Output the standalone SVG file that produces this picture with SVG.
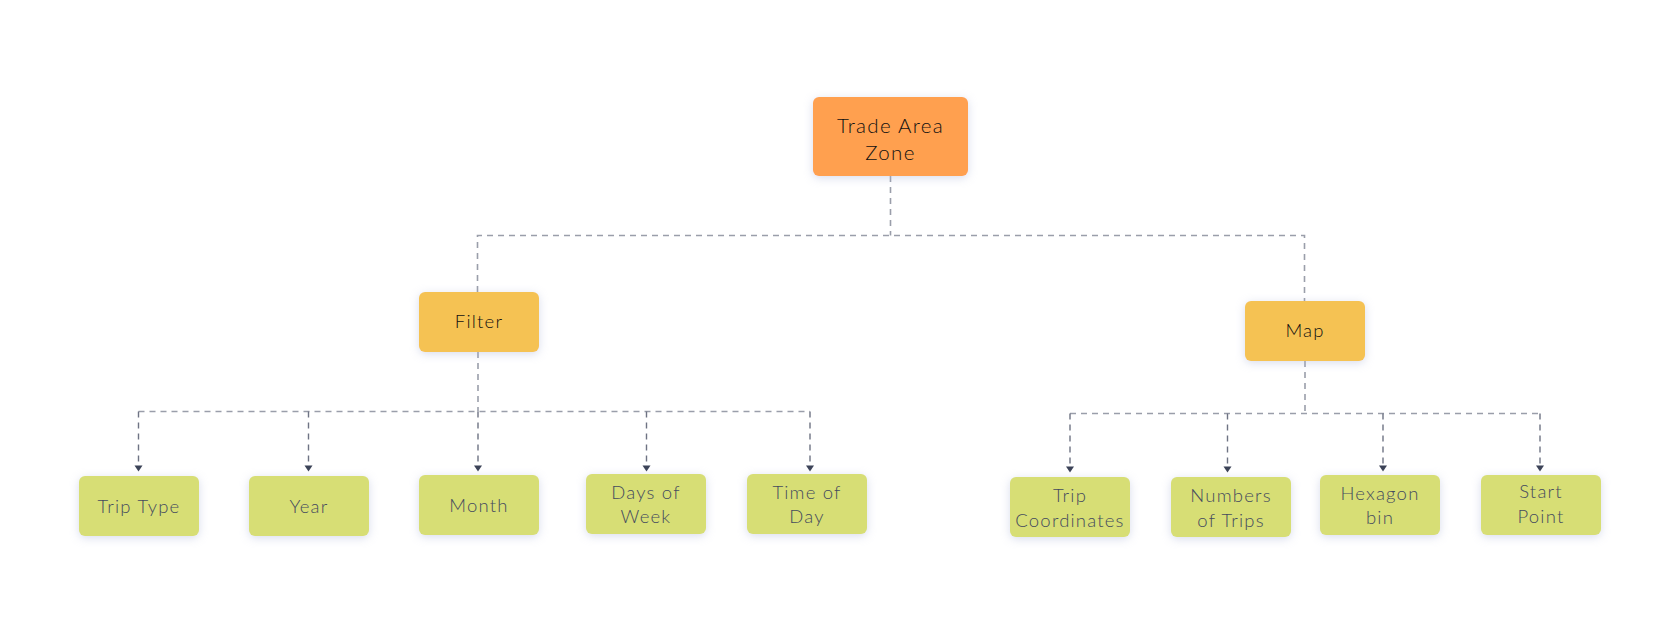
<svg xmlns="http://www.w3.org/2000/svg" width="1680" height="633" viewBox="0 0 1680 633">
<defs>
<filter id="sh" x="-30%" y="-40%" width="160%" height="180%">
<feDropShadow dx="0" dy="2" stdDeviation="5" flood-color="#aab2d4" flood-opacity="0.45"/>
</filter>
<style>
.ln{fill:none;stroke:#9a9eaa;stroke-width:1.6;stroke-dasharray:6 5}
.ch{fill:none;stroke:#6e7383;stroke-width:1.4;stroke-dasharray:6 5}
.ah{fill:#3b4257}
.root{fill:#ffa04f}
.mid{fill:#f5c253}
.leaf{fill:#d7de74}
.t{font-family:Lato,"Noto Sans",sans-serif;font-weight:300;font-size:18.5px;letter-spacing:1.2px;text-anchor:middle}
.big{font-size:20.5px;letter-spacing:1.3px}
.dk{fill:#111111}
.gy{fill:#454b5e}
</style>
</defs>
<rect width="1680" height="633" fill="#ffffff"/>
<g id="connectors">
<path class="ln" d="M890.5 176 V235.5"/>
<path class="ln" d="M477.5 292 V235.5 H1304.5 V301"/>
<path class="ln" d="M478 352 V411.5"/>
<path class="ln" d="M138.5 411.5 H810"/>
<path class="ch" d="M138.5 411.5 V466"/>
<path class="ch" d="M308.5 411.5 V466"/>
<path class="ch" d="M478 411.5 V466"/>
<path class="ch" d="M646.5 411.5 V466"/>
<path class="ch" d="M810 411.5 V466"/>
<path class="ln" d="M1305 361 V413.5"/>
<path class="ln" d="M1070 413.5 H1540"/>
<path class="ch" d="M1070 413.5 V467"/>
<path class="ch" d="M1227.5 413.5 V467"/>
<path class="ch" d="M1383 413.5 V466"/>
<path class="ch" d="M1540 413.5 V466"/>
<path class="ah" d="M134.5 465.5 h8 l-4 6 z"/>
<path class="ah" d="M304.5 465.5 h8 l-4 6 z"/>
<path class="ah" d="M474 465.5 h8 l-4 6 z"/>
<path class="ah" d="M642.5 465.5 h8 l-4 6 z"/>
<path class="ah" d="M806 465.5 h8 l-4 6 z"/>
<path class="ah" d="M1066 466.5 h8 l-4 6 z"/>
<path class="ah" d="M1223.5 466.5 h8 l-4 6 z"/>
<path class="ah" d="M1379 465.5 h8 l-4 6 z"/>
<path class="ah" d="M1536 465.5 h8 l-4 6 z"/>
</g>
<g id="root">
<rect class="root" x="813" y="97" width="155" height="79" rx="6" filter="url(#sh)"/>
<text class="t big dk" x="890.5" y="133">Trade Area</text>
<text class="t big dk" x="890.5" y="160">Zone</text>
</g>
<g id="filter">
<rect class="mid" x="419" y="292" width="120" height="60" rx="6" filter="url(#sh)"/>
<text class="t dk" x="479" y="328">Filter</text>
</g>
<g id="map">
<rect class="mid" x="1245" y="301" width="120" height="60" rx="6" filter="url(#sh)"/>
<text class="t dk" x="1305" y="337">Map</text>
</g>
<g id="trip-type">
<rect class="leaf" x="79" y="476" width="120" height="60" rx="6" filter="url(#sh)"/>
<text class="t gy" x="139" y="512.5">Trip Type</text>
</g>
<g id="year">
<rect class="leaf" x="249" y="476" width="120" height="60" rx="6" filter="url(#sh)"/>
<text class="t gy" x="309" y="512.5">Year</text>
</g>
<g id="month">
<rect class="leaf" x="419" y="475" width="120" height="60" rx="6" filter="url(#sh)"/>
<text class="t gy" x="479" y="511.5">Month</text>
</g>
<g id="days-of-week">
<rect class="leaf" x="586" y="474" width="120" height="60" rx="6" filter="url(#sh)"/>
<text class="t gy" x="646" y="499">Days of</text>
<text class="t gy" x="646" y="523">Week</text>
</g>
<g id="time-of-day">
<rect class="leaf" x="747" y="474" width="120" height="60" rx="6" filter="url(#sh)"/>
<text class="t gy" x="807" y="499">Time of</text>
<text class="t gy" x="807" y="523">Day</text>
</g>
<g id="trip-coordinates">
<rect class="leaf" x="1010" y="477" width="120" height="60" rx="6" filter="url(#sh)"/>
<text class="t gy" x="1070" y="502">Trip</text>
<text class="t gy" x="1070" y="526.5">Coordinates</text>
</g>
<g id="numbers-of-trips">
<rect class="leaf" x="1171" y="477" width="120" height="60" rx="6" filter="url(#sh)"/>
<text class="t gy" x="1231" y="502">Numbers</text>
<text class="t gy" x="1231" y="526.5">of Trips</text>
</g>
<g id="hexagon-bin">
<rect class="leaf" x="1320" y="475" width="120" height="60" rx="6" filter="url(#sh)"/>
<text class="t gy" x="1380" y="500">Hexagon</text>
<text class="t gy" x="1380" y="524">bin</text>
</g>
<g id="start-point">
<rect class="leaf" x="1481" y="475" width="120" height="60" rx="6" filter="url(#sh)"/>
<text class="t gy" x="1541" y="498">Start</text>
<text class="t gy" x="1541" y="523">Point</text>
</g>
</svg>
